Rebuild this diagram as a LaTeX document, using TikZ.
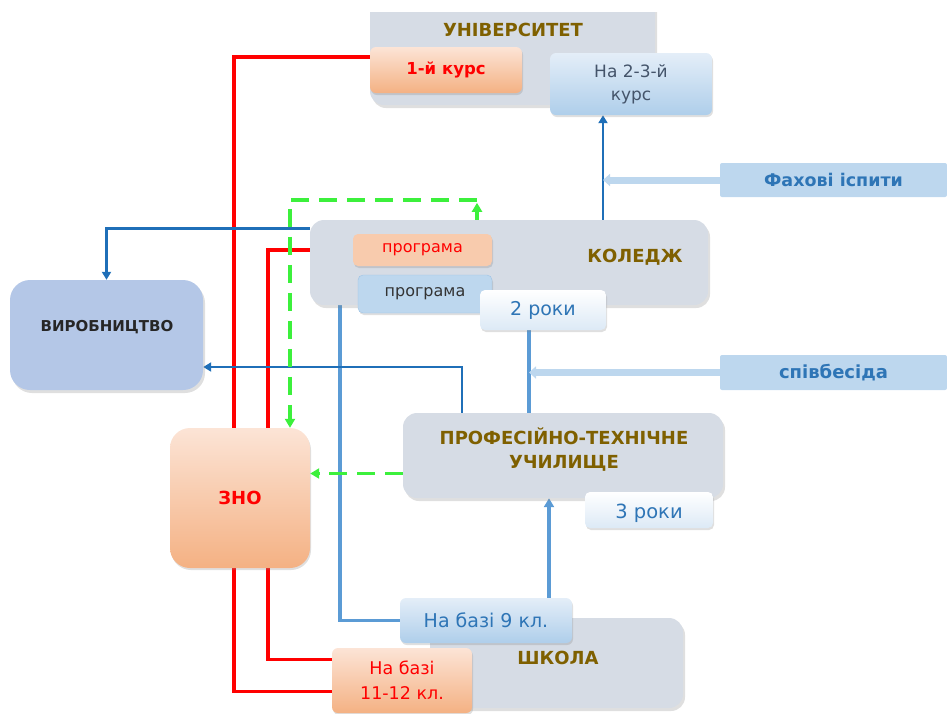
\documentclass[tikz,border=0pt]{standalone}
\usepackage{fontspec}
\setmainfont{DejaVu Sans}
\usetikzlibrary{arrows.meta,shadows,calc}
\pgfdeclarelayer{bg}
\pgfsetlayers{bg,main}
\definecolor{boxgray}{HTML}{D6DCE5}
\definecolor{peach}{HTML}{F8CBAD}
\definecolor{peachdk}{HTML}{F4B183}
\definecolor{peachlt}{HTML}{FCE4D6}
\definecolor{skyblue}{HTML}{BDD7EE}
\definecolor{skylt}{HTML}{E4EEF8}
\definecolor{vyrblue}{HTML}{B4C7E7}
\definecolor{olive}{HTML}{7F6000}
\definecolor{lineblue}{HTML}{1F6FB8}
\definecolor{midblue}{HTML}{5B9BD5}
\definecolor{txtblue}{HTML}{2E75B6}
\definecolor{slate}{HTML}{44546A}
\definecolor{zgreen}{HTML}{3CF03C}

\begin{document}
\begin{tikzpicture}[x=1pt,y=-1pt,
    >={Triangle[length=9pt,width=10pt]},
    grp/.style={fill=boxgray,rounded corners=14pt,inner sep=0pt,
      drop shadow={opacity=0.25,shadow xshift=2pt,shadow yshift=-3pt}},
    pch/.style={top color=peachlt,bottom color=peachdk,rounded corners=6pt,inner sep=0pt,
      drop shadow={opacity=0.25,shadow xshift=1pt,shadow yshift=-2pt}},
    sky/.style={top color=skylt,bottom color=skyblue!85!midblue,rounded corners=6pt,inner sep=0pt,
      drop shadow={opacity=0.25,shadow xshift=1pt,shadow yshift=-2pt}},
    pale/.style={top color=white,bottom color=skylt!80!skyblue,rounded corners=5pt,inner sep=0pt,
      drop shadow={opacity=0.25,shadow xshift=1pt,shadow yshift=-2pt}},
    flat/.style={fill=skyblue,rounded corners=2pt,inner sep=0pt},
    ttl/.style={font=\bfseries\fontsize{18}{24}\selectfont,text=olive,align=center},
    redln/.style={draw=red,line width=3.5pt},
    midln/.style={draw=midblue,line width=3.5pt},
    darkln/.style={draw=lineblue,line width=2.5pt,>={Triangle[length=8pt,width=9pt]}},
    greenln/.style={draw=zgreen,line width=3.5pt,dash pattern=on 18pt off 10pt},
    wide/.style={draw=skyblue,line width=7pt,>={Triangle[length=7pt,width=12pt]}}]
  \useasboundingbox (0,0) rectangle (947,713);

  \begin{scope}
    \clip (350,12) rectangle (680,130);
    \node[grp,minimum width=285pt,minimum height=113pt] (univ) at (512.5,48.5) {};
  \end{scope}
  \node[ttl] at (513,30) {УНІВЕРСИТЕТ};
  \node[pch,minimum width=152pt,minimum height=46pt,text=red,
    font=\bfseries\fontsize{16.5}{20}\selectfont] (kurs1) at (446,70) {1-й курс};
  \node[sky,minimum width=162pt,minimum height=62pt,text=slate,align=center,
    font=\fontsize{17}{23}\selectfont] (kurs23) at (631,84) {На 2-3-й\\курс};

  \node[flat,minimum width=227pt,minimum height=34pt,text=txtblue,
    font=\bfseries\fontsize{17.5}{20}\selectfont] (fah) at (833.5,180) {Фахові іспити};

  \node[grp,minimum width=398pt,minimum height=85pt] (coll) at (509,262.5) {};
  \node[ttl] at (635,257) {КОЛЕДЖ};
  \node[fill=peach,rounded corners=5pt,minimum width=139pt,minimum height=32pt,text=red,
    font=\fontsize{16}{18}\selectfont,
    drop shadow={opacity=0.25,shadow xshift=1pt,shadow yshift=-2pt}] (progr) at (422.5,250) {програма};
  \node[fill=skyblue,draw=midblue!60,rounded corners=5pt,minimum width=134pt,minimum height=38pt,
    font=\fontsize{16}{18}\selectfont,text=black!80,
    drop shadow={opacity=0.25,shadow xshift=1pt,shadow yshift=-2pt}] (progb) at (425,294) {програма};
  \node[pale,minimum width=126pt,minimum height=40pt,text=txtblue,
    font=\fontsize{19}{22}\selectfont] (roky2) at (543,310) {2 роки};

  \node[fill=vyrblue,rounded corners=20pt,minimum width=193pt,minimum height=110pt,
    drop shadow={opacity=0.25,shadow xshift=2pt,shadow yshift=-3pt}] (vyr) at (106.5,335) {};
  \node[font=\bfseries\fontsize{15}{18}\selectfont,text=black!85] at (107,327) {ВИРОБНИЦТВО};

  \node[flat,minimum width=227pt,minimum height=35pt,text=txtblue,
    font=\bfseries\fontsize{18}{21}\selectfont] (spiv) at (833.5,372.5) {співбесіда};

  \node[grp,minimum width=320pt,minimum height=85pt] (ptu) at (563,455.5) {};
  \node[ttl] at (564,450) {ПРОФЕСІЙНО-ТЕХНІЧНЕ\\УЧИЛИЩЕ};
  \node[pale,minimum width=128pt,minimum height=36pt] (roky3) at (649,510) {};
  \node[text=txtblue,font=\fontsize{19.5}{22}\selectfont] at (649,513) {3 роки};

  \node[pch,rounded corners=20pt,minimum width=140pt,minimum height=140pt,text=red,
    font=\bfseries\fontsize{18}{21}\selectfont] (zno) at (240,498) {ЗНО};

  \node[grp,minimum width=253pt,minimum height=90pt] (shk) at (556.5,663) {};
  \node[ttl] at (558,658) {ШКОЛА};
  \node[sky,minimum width=172pt,minimum height=45pt,text=txtblue,
    font=\fontsize{19}{22}\selectfont] (baza9) at (486,620.5) {На базі 9 кл.};
  \node[pch,minimum width=140pt,minimum height=65pt,text=red,align=center,
    font=\fontsize{17.5}{25}\selectfont] (baza11) at (402,680.5) {На базі\\11-12 кл.};

  \coordinate (up) at ([xshift=94pt]coll.north);
  \coordinate (mid) at ([xshift=-34pt]ptu.north);
  \coordinate (b9) at ([xshift=63pt]baza9.north);

  \begin{pgfonlayer}{bg}
    \draw[redln] ([yshift=-11pt]baza11.west) -| (234,57) -- ([yshift=13pt]kurs1.west);
    \draw[redln,->] ([yshift=21pt]baza11.west) -| (268,250) -- (progr.west);
    \draw[midln,->] (baza9.west) -| (340,283) -- ([yshift=11pt]progb.west);
    \draw[darkln,->] ([yshift=34pt]coll.west) -| (vyr.north);
    \draw[darkln,->] ([xshift=-101pt]ptu.north) |- ([yshift=-32pt]vyr.east);
    \draw[greenln,->] ([xshift=-32pt]coll.north) -- ++(0,-17);
    \draw[greenln,->] ([xshift=-32pt,yshift=20pt]coll.north) -| ([xshift=50pt]zno.north);
    \draw[greenln,->] ([yshift=-18pt]ptu.west) -- ([yshift=-18pt]ptu.west -| zno.east);
    \draw[darkln,->] (up) -- (up |- kurs23.south);
    \draw[wide,->] (fah.west) -- (fah.west -| up);
    \draw[midln] (mid |- roky2.south) -- (mid);
    \draw[wide,->] (spiv.west) -- (spiv.west -| mid);
    \draw[midln,->] (b9) -- (b9 |- ptu.south);
  \end{pgfonlayer}
\end{tikzpicture}
\end{document}
